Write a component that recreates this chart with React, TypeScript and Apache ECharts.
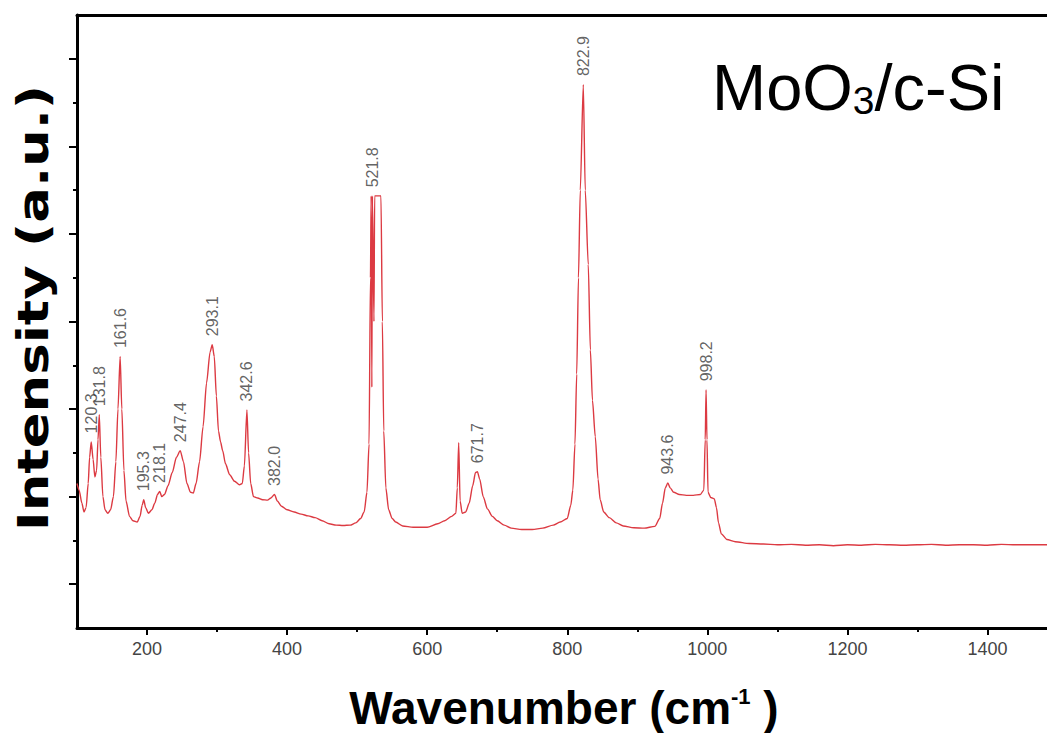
import React, { useEffect, useRef } from 'react';
import * as echarts from 'echarts';

// Raman spectrum of MoO3/c-Si (arbitrary intensity units)
const wavenumbers = [
  100, 103, 107, 110, 113, 116, 118, 120.3, 123, 125.5, 128, 130, 131.8, 134, 137, 140, 144, 148, 152, 155.5,
  158.5, 161.6, 164, 167, 170, 175, 180, 186, 190, 193, 195.3, 198, 202, 207, 211, 215, 218.1, 221, 225, 230,
  236, 242, 247.4, 252, 257, 262, 266, 270, 275, 280, 285, 290, 293.1, 296, 299, 302, 305, 308, 312, 318,
  325, 332, 336, 339, 342.6, 345, 348, 352, 358, 365, 372, 377, 382, 386, 392, 400, 410, 420, 430, 440,
  450, 460, 470, 480, 490, 498, 505, 510, 514, 517, 519, 520, 521, 521.8, 524, 525, 530, 534, 536, 538,
  541, 545, 550, 555, 565, 580, 600, 615, 625, 635, 641, 643, 645, 647, 650, 655, 660, 665, 669, 671.7,
  675, 680, 686, 693, 700, 710, 720, 735, 750, 765, 780, 790, 800, 805, 808, 811, 813.5, 816, 818.6, 822.9,
  825.7, 830, 833, 836, 840, 844, 847, 852, 860, 870, 880, 895, 910, 925, 932, 936, 940, 943.6, 947, 952,
  960, 970, 980, 990, 995, 997, 998.2, 999.5, 1001, 1005, 1010, 1013, 1016, 1020, 1028, 1040, 1060, 1080, 1100, 1120,
  1140, 1160, 1180, 1200, 1220, 1240, 1260, 1280, 1300, 1320, 1340, 1360, 1380, 1400, 1420, 1440, 1460, 1485,
];
const intensity = [
  3.3, 3.15, 2.85, 2.65, 2.75, 3.3, 3.9, 4.25, 3.85, 3.45, 3.6, 4.3, 4.87, 3.9, 3.0, 2.7, 2.62, 2.7, 3.0, 3.8,
  5.0, 6.2, 5.0, 3.6, 2.9, 2.55, 2.45, 2.42, 2.55, 2.8, 2.93, 2.75, 2.62, 2.7, 2.85, 3.05, 3.12, 3.0, 3.05, 3.25,
  3.55, 3.9, 4.05, 3.8, 3.3, 3.1, 3.08, 3.3, 3.8, 4.6, 5.6, 6.3, 6.47, 6.2, 5.3, 4.5, 4.25, 4.05, 3.75, 3.5,
  3.35, 3.27, 3.3, 3.7, 4.98, 4.0, 3.3, 3.0, 2.97, 2.93, 2.92, 2.97, 3.05, 2.9, 2.78, 2.7, 2.65, 2.6, 2.56, 2.52,
  2.45, 2.38, 2.35, 2.34, 2.35, 2.4, 2.5, 2.65, 3.1, 4.2, 8.0, 9.87, 5.5, 9.87, 7.0, 9.87, 9.87, 9.87, 7.0, 4.5,
  3.2, 2.7, 2.5, 2.42, 2.33, 2.3, 2.3, 2.38, 2.45, 2.55, 2.62, 3.2, 4.23, 2.9, 2.62, 2.65, 2.85, 3.25, 3.55, 3.57,
  3.4, 3.0, 2.72, 2.55, 2.45, 2.35, 2.28, 2.25, 2.25, 2.28, 2.35, 2.42, 2.5, 2.8, 3.15, 4.2, 5.8, 8.0, 10.0, 12.41,
  10.0, 8.3, 6.35, 5.2, 4.37, 3.4, 2.93, 2.65, 2.52, 2.4, 2.33, 2.29, 2.28, 2.32, 2.5, 2.85, 3.2, 3.31, 3.2, 3.1,
  3.05, 3.03, 3.03, 3.05, 3.15, 4.3, 5.44, 4.3, 3.1, 2.98, 2.95, 2.75, 2.4, 2.15, 2.02, 1.97, 1.93, 1.92, 1.9, 1.91,
  1.89, 1.9, 1.88, 1.9, 1.89, 1.91, 1.9, 1.89, 1.9, 1.91, 1.89, 1.9, 1.9, 1.89, 1.91, 1.9, 1.9, 1.9,
];

const peakPositions = [120.3, 131.8, 161.6, 195.3, 218.1, 247.4, 293.1, 342.6, 382.0, 521.8, 671.7, 822.9, 943.6, 998.2];
const peakHeights = [4.25, 4.87, 6.2, 2.93, 3.12, 4.05, 6.47, 4.98, 3.05, 9.87, 3.57, 12.41, 3.31, 5.44];
const peakLabels = ['120.3', '131.8', '161.6', '195.3', '218.1', '247.4', '293.1', '342.6', '382.0', '521.8', '671.7', '822.9', '943.6', '998.2'];

const xTickLabels = [200, 400, 600, 800, 1000, 1200, 1400];
const xMinorTicks = [300, 500, 700, 900, 1100, 1300];
const yMajorTicks = [1, 3, 5, 7, 9, 11, 13];
const yMinorTicks = [2, 4, 6, 8, 10, 12];

const X_MIN = 100;
const X_MAX = 1485;
const Y_MIN = 0;
const Y_MAX = 14;

export default function App() {
  const ref = useRef<HTMLDivElement>(null);

  useEffect(() => {
    document.body.style.margin = '0';
    if (!ref.current) return;
    const chart = echarts.init(ref.current, undefined, { renderer: 'svg' });

    const spectrum = wavenumbers.map((w, i) => [w, intensity[i]]);
    const peaks = peakPositions.map((p, i) => ({ value: [p, peakHeights[i]], name: peakLabels[i] }));

    const hiddenAxisBits = {
      axisLabel: { show: false },
      splitLine: { show: false },
    };

    const option: any = {
      animation: false,
      backgroundColor: '#ffffff',
      grid: { left: 77, right: 0, top: 15, bottom: 105, containLabel: false, show: false },
      xAxis: [
        {
          type: 'value', min: X_MIN, max: X_MAX, position: 'bottom',
          axisLine: { show: true, onZero: false, lineStyle: { color: '#000', width: 3 } },
          axisTick: { show: true, customValues: xTickLabels, length: 7, lineStyle: { color: '#000', width: 2 } },
          axisLabel: {
            show: true, customValues: xTickLabels, margin: 12, color: '#444', fontSize: 18, fontFamily: 'Liberation Sans',
            formatter: (v: number) => String(v),
          },
          splitLine: { show: false },
        },
        {
          type: 'value', min: X_MIN, max: X_MAX, position: 'bottom',
          axisLine: { show: false, onZero: false },
          axisTick: { show: true, customValues: xMinorTicks, length: 4, lineStyle: { color: '#000', width: 2 } },
          ...hiddenAxisBits,
        },
        {
          type: 'value', min: X_MIN, max: X_MAX, position: 'top',
          axisLine: { show: true, onZero: false, lineStyle: { color: '#000', width: 3 } },
          axisTick: { show: false },
          ...hiddenAxisBits,
        },
      ],
      yAxis: [
        {
          type: 'value', min: Y_MIN, max: Y_MAX, position: 'left',
          axisLine: { show: true, onZero: false, lineStyle: { color: '#000', width: 3 } },
          axisTick: { show: true, customValues: yMajorTicks, length: 8, lineStyle: { color: '#000', width: 2 } },
          ...hiddenAxisBits,
        },
        {
          type: 'value', min: Y_MIN, max: Y_MAX, position: 'left',
          axisLine: { show: false, onZero: false },
          axisTick: { show: true, customValues: yMinorTicks, length: 4, lineStyle: { color: '#000', width: 2 } },
          ...hiddenAxisBits,
        },
      ],
      series: [
        {
          type: 'line',
          xAxisIndex: 0,
          yAxisIndex: 0,
          data: spectrum,
          showSymbol: false,
          symbol: 'none',
          smooth: 0.25,
          smoothMonotone: 'x',
          lineStyle: { color: '#dc3a42', width: 1.4 },
          silent: true,
        },
        {
          type: 'scatter',
          xAxisIndex: 0,
          yAxisIndex: 0,
          data: peaks,
          symbolSize: 1,
          itemStyle: { color: 'rgba(0,0,0,0)' },
          silent: true,
          label: {
            show: true,
            position: 'top',
            rotate: 90,
            align: 'left',
            verticalAlign: 'middle',
            distance: 8,
            formatter: (p: any) => p.name,
            color: '#3a3a3a',
            fontSize: 16,
            fontFamily: 'Liberation Sans',
          },
        },
      ],
      graphic: [
        {
          type: 'text',
          x: 33,
          y: 308,
          rotation: Math.PI / 2,
          scaleX: 1.26,
          style: {
            text: 'Intensity (a.u.)',
            fontSize: 42,
            fontWeight: 'bold',
            fontFamily: 'DejaVu Sans',
            fill: '#000',
            align: 'center',
            verticalAlign: 'middle',
          },
        },
        {
          type: 'text',
          x: 564,
          y: 708,
          style: {
            text: 'Wavenumber (cm{sup|-1} )',
            fontSize: 46,
            fontWeight: 'bold',
            fontFamily: 'Liberation Sans',
            fill: '#000',
            align: 'center',
            verticalAlign: 'middle',
            rich: {
              sup: { fontSize: 22, fontWeight: 'bold', fontFamily: 'Liberation Sans', fill: '#000', verticalAlign: 'top', padding: [0, 0, 18, 0] },
            },
          },
        },
        {
          type: 'text',
          x: 712,
          y: 87,
          style: {
            text: 'MoO{sub|3}/c-Si',
            fontSize: 65,
            fontFamily: 'Liberation Sans',
            fill: '#000',
            align: 'left',
            verticalAlign: 'middle',
            rich: {
              sub: { fontSize: 39, fontFamily: 'Liberation Sans', fill: '#000', verticalAlign: 'bottom' },
            },
          },
        },
      ],
    };

    chart.setOption(option);
    return () => chart.dispose();
  }, []);

  return <div ref={ref} style={{ position: 'absolute', left: 0, top: 0, width: 1047, height: 733 }} />;
}
